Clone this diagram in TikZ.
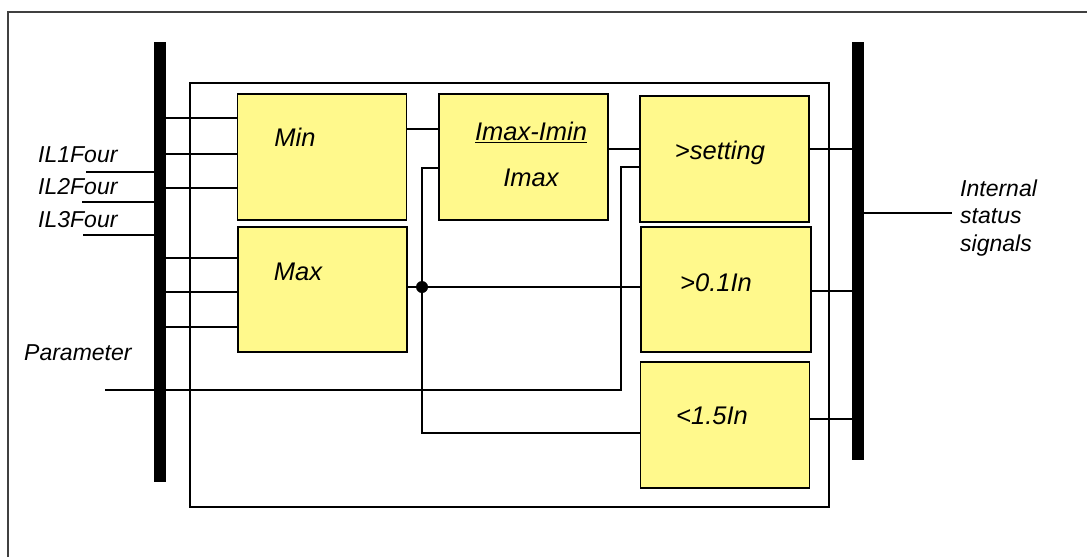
\documentclass[tikz,border=0pt]{standalone}
\usepackage{fontspec}
\setmainfont{Liberation Sans}
\begin{document}
\begin{tikzpicture}[x=1pt,y=-1pt,
  wire/.style={line width=1.3pt,black},
  frameline/.style={line width=1.5pt,black!75},
  fbox/.style={draw=black,line width=1.8pt,fill=yellow!45,minimum width=169pt,minimum height=126pt,inner sep=0pt},
  bus/.style={fill=black,inner sep=0pt,minimum width=12pt},
  txt/.style={font=\fontsize{23}{27.5}\selectfont\itshape,inner sep=0pt},
  btxt/.style={font=\fontsize{25.5}{30}\selectfont\itshape,inner sep=0pt}]
\useasboundingbox (0,0) rectangle (1087,557);
% outer frame (top and left only)
\draw[frameline] (8,557) -- (8,12) -- (1087,12);
% inner frame
\draw[wire] (190,83) rectangle (829,507);
% buses
\node[bus,minimum height=440pt] (lbus) at (160,262) {};
\node[bus,minimum height=418pt] (rbus) at (858,251) {};
% function boxes
\node[fbox] (min) at (322,157) {};
\node[fbox,minimum height=125pt] (max) at (322.5,289.5) {};
\node[fbox] (ratio) at (523.5,157) {};
\node[fbox] (set) at (724.5,159) {};
\node[fbox,minimum width=170pt,minimum height=125pt] (tenth) at (726,289.5) {};
\node[fbox] (lt) at (725,425) {};
% box texts
\node[btxt] (tmin) at (295,137) {Min};
\node[btxt] (tmax) at (298,272) {Max};
\node[btxt] (tratio) at (531,132) {\underline{Imax-Imin}};
\node[btxt] (timax) at (531,178) {Imax};
\node[btxt] (tset) at (720,153) {>setting};
\node[btxt] (ttenth) at (716,283) {>0.1In};
\node[btxt] (tlt) at (712,416) {<1.5In};
% left labels
\node[txt,anchor=west] (l1) at (38,155) {IL1Four};
\node[txt,anchor=west] (l2) at (38,187) {IL2Four};
\node[txt,anchor=west] (l3) at (38,220) {IL3Four};
\node[txt,anchor=west] (lpar) at (24,353) {Parameter};
\node[txt,anchor=west,align=left] (lint) at (960,218) {Internal\\status\\signals};
% label lines into left bus
\coordinate (a1) at (86,172);
\coordinate (a2) at (82,202);
\coordinate (a3) at (83,235);
\draw[wire] (a1) -- (lbus.west |- a1);
\draw[wire] (a2) -- (lbus.west |- a2);
\draw[wire] (a3) -- (lbus.west |- a3);
% bus to Min
\foreach \yy in {118,154,188} \draw[wire] (lbus.east |- 0,\yy) -- (min.west |- 0,\yy);
% bus to Max
\foreach \yy in {258,292,327} \draw[wire] (lbus.east |- 0,\yy) -- (max.west |- 0,\yy);
% Min to ratio
\draw[wire] (min.east |- 0,129) -- (ratio.west |- 0,129);
% Max to >0.1In with junction
\coordinate (j) at (422,287);
\draw[wire] (max.east |- j) -- (tenth.west |- j);
\fill (j) circle (6pt);
\draw[wire] (ratio.west |- 0,168) -- (422,168) -- (422,433) -- (lt.west |- 0,433);
% ratio to setting
\draw[wire] (ratio.east |- 0,149) -- (set.west |- 0,149);
% parameter
\coordinate (p0) at (105,390);
\draw[wire] (p0) -- (621,390) -- (621,167) -- (set.west |- 0,167);
% outputs
\draw[wire] (set.east |- 0,149) -- (rbus.west |- 0,149);
\draw[wire] (tenth.east |- 0,291) -- (rbus.west |- 0,291);
\draw[wire] (lt.east |- 0,419) -- (rbus.west |- 0,419);
\coordinate (o) at (952,213);
\draw[wire] (rbus.east |- o) -- (o);
\end{tikzpicture}
\end{document}
